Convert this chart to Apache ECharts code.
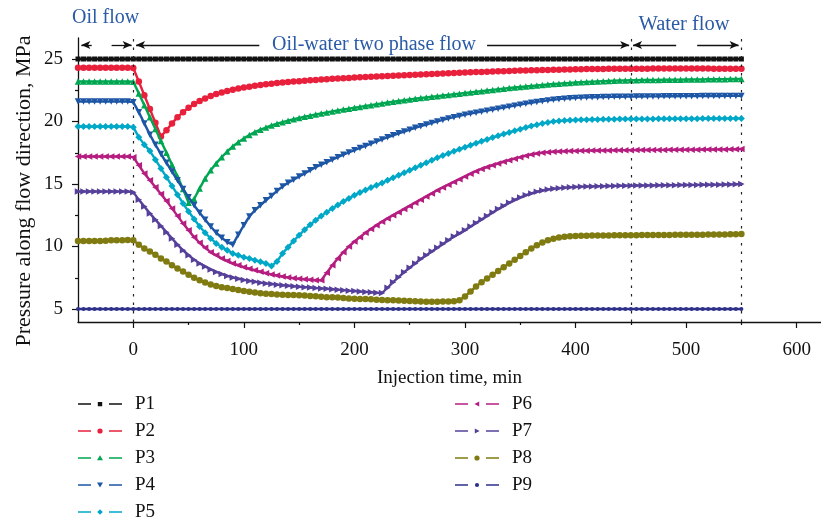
<!DOCTYPE html>
<html>
<head>
<meta charset="utf-8">
<script src="https://cdn.jsdelivr.net/npm/echarts@6/dist/echarts.min.js"></script>
<style>html,body{margin:0;padding:0;background:#fff;}#c{width:821px;height:525px;}</style>
</head>
<body>
<div id="c"></div>
<script>
// Injection time (min)
const times = [-50,-45,-40,-35,-30,-25,-20,-15,-10,-5,0,
5,10,15,20,25,30,35,40,45,50,55,60,65,70,75,80,85,90,95,100,
105,110,115,120,125,130,135,140,145,150,155,160,165,170,175,180,185,190,195,200,
205,210,215,220,225,230,235,240,245,250,255,260,265,270,275,280,285,290,295,300,
305,310,315,320,325,330,335,340,345,350,355,360,365,370,375,380,385,390,395,400,
405,410,415,420,425,430,435,440,445,450,455,460,465,470,475,480,485,490,495,500,
505,510,515,520,525,530,535,540,545,550];

const P1 = [25,25,25,25,25,25,25,25,25,25,25,
25,25,25,25,25,25,25,25,25,25,25,25,25,25,25,25,25,25,25,25,
25,25,25,25,25,25,25,25,25,25,25,25,25,25,25,25,25,25,25,25,
25,25,25,25,25,25,25,25,25,25,25,25,25,25,25,25,25,25,25,25,
25,25,25,25,25,25,25,25,25,25,25,25,25,25,25,25,25,25,25,25,
25,25,25,25,25,25,25,25,25,25,25,25,25,25,25,25,25,25,25,25,
25,25,25,25,25,25,25,25,25,25];
const P2 = [24.3,24.3,24.3,24.3,24.3,24.3,24.3,24.3,24.3,24.3,24.28,
23.2,22.1,21.0,19.9,18.8,19.3,19.85,20.35,20.75,21.1,21.4,21.65,21.85,22.05,22.2,22.33,22.45,22.55,22.64,22.72,
22.79,22.86,22.92,22.98,23.03,23.08,23.12,23.16,23.2,23.23,23.27,23.3,23.33,23.36,23.39,23.42,23.44,23.47,23.49,23.52,
23.54,23.56,23.58,23.6,23.62,23.64,23.66,23.68,23.7,23.72,23.74,23.76,23.78,23.8,23.82,23.84,23.86,23.88,23.9,23.92,
23.94,23.96,23.97,23.99,24.0,24.02,24.03,24.05,24.06,24.08,24.09,24.1,24.11,24.12,24.13,24.14,24.15,24.16,24.17,24.18,
24.19,24.2,24.2,24.21,24.21,24.22,24.22,24.22,24.23,24.23,24.23,24.23,24.23,24.24,24.24,24.24,24.24,24.24,24.24,24.24,
24.24,24.24,24.24,24.24,24.23,24.23,24.23,24.23,24.22,24.22];
const P3 = [23.2,23.2,23.2,23.2,23.2,23.2,23.2,23.2,23.2,23.2,23.18,
22.25,21.3,20.35,19.4,18.45,17.5,16.55,15.6,14.6,13.5,13.8,14.65,15.45,16.1,16.65,17.15,17.6,18.0,18.35,18.65,
18.92,19.15,19.35,19.52,19.68,19.82,19.95,20.07,20.18,20.28,20.38,20.47,20.56,20.65,20.73,20.81,20.89,20.96,21.03,21.1,
21.17,21.24,21.31,21.38,21.45,21.52,21.58,21.64,21.7,21.76,21.82,21.88,21.93,21.98,22.03,22.08,22.13,22.18,22.23,22.28,
22.33,22.38,22.43,22.48,22.53,22.58,22.63,22.68,22.72,22.76,22.8,22.84,22.88,22.92,22.96,23.0,23.03,23.06,23.09,23.12,
23.15,23.17,23.19,23.21,23.23,23.25,23.27,23.28,23.29,23.3,23.31,23.32,23.32,23.33,23.33,23.34,23.34,23.35,23.35,23.36,
23.36,23.37,23.37,23.38,23.38,23.39,23.39,23.4,23.4,23.4];
const P4 = [21.6,21.6,21.6,21.6,21.6,21.6,21.6,21.6,21.6,21.6,21.55,
20.75,19.85,18.95,18.15,17.4,16.7,16.0,15.3,14.6,13.95,13.3,12.7,12.15,11.6,11.1,10.7,10.35,10.15,10.95,11.7,
12.4,12.9,13.3,13.7,14.05,14.45,14.8,15.1,15.35,15.6,15.85,16.1,16.35,16.55,16.75,16.95,17.15,17.35,17.52,17.7,
17.88,18.05,18.22,18.4,18.57,18.74,18.9,19.06,19.2,19.35,19.5,19.63,19.76,19.89,20.01,20.13,20.25,20.35,20.45,20.55,
20.63,20.71,20.79,20.87,20.95,21.03,21.11,21.19,21.27,21.35,21.43,21.5,21.57,21.63,21.69,21.74,21.79,21.83,21.86,21.89,
21.91,21.93,21.94,21.95,21.96,21.97,21.98,21.98,21.99,21.99,22.0,22.0,22.01,22.01,22.01,22.02,22.02,22.02,22.03,22.03,
22.03,22.03,22.04,22.04,22.04,22.04,22.05,22.05,22.05,22.05];
const P5 = [19.6,19.6,19.6,19.6,19.6,19.6,19.6,19.6,19.6,19.6,19.55,
18.75,18.15,17.65,16.95,16.25,15.55,14.85,14.15,13.45,12.8,12.2,11.6,11.1,10.65,10.25,9.95,9.7,9.45,9.3,9.15,
9.05,8.9,8.78,8.65,8.45,8.8,9.45,9.95,10.45,10.9,11.35,11.75,12.1,12.45,12.75,13.05,13.32,13.6,13.85,14.1,
14.32,14.52,14.72,14.9,15.08,15.3,15.5,15.7,15.9,16.1,16.3,16.5,16.7,16.9,17.1,17.28,17.45,17.62,17.78,17.94,
18.1,18.26,18.42,18.57,18.72,18.86,19.0,19.13,19.26,19.39,19.52,19.64,19.75,19.85,19.93,20.0,20.05,20.08,20.1,20.12,
20.14,20.15,20.16,20.17,20.18,20.19,20.19,20.2,20.2,20.2,20.2,20.21,20.21,20.21,20.22,20.22,20.22,20.22,20.23,20.23,
20.23,20.23,20.24,20.24,20.24,20.24,20.25,20.25,20.25,20.25];
const P6 = [17.2,17.2,17.2,17.2,17.2,17.2,17.2,17.2,17.2,17.2,17.15,
16.5,15.85,15.3,14.75,14.2,13.65,13.05,12.45,11.85,11.3,10.75,10.3,9.9,9.55,9.3,9.05,8.85,8.65,8.5,8.35,
8.22,8.1,7.98,7.87,7.77,7.68,7.6,7.53,7.47,7.42,7.38,7.34,7.3,7.3,7.9,8.5,9.05,9.55,10.0,10.4,
10.75,11.1,11.4,11.7,11.98,12.25,12.5,12.75,13.0,13.25,13.5,13.75,14.0,14.25,14.5,14.72,14.94,15.16,15.38,15.6,
15.82,16.03,16.2,16.36,16.5,16.64,16.78,16.91,17.03,17.15,17.26,17.36,17.44,17.5,17.55,17.58,17.6,17.62,17.64,17.65,
17.66,17.67,17.68,17.68,17.69,17.69,17.7,17.7,17.71,17.71,17.72,17.72,17.72,17.73,17.73,17.73,17.74,17.74,17.74,17.75,
17.75,17.75,17.76,17.76,17.76,17.77,17.77,17.78,17.78,17.8];
const P7 = [14.4,14.4,14.4,14.4,14.4,14.4,14.4,14.4,14.4,14.4,14.35,
13.75,13.2,12.65,12.15,11.65,11.15,10.65,10.15,9.7,9.3,8.95,8.65,8.4,8.17,7.97,7.8,7.65,7.52,7.42,7.33,
7.25,7.18,7.11,7.05,7.0,6.95,6.9,6.86,6.82,6.78,6.75,6.72,6.68,6.65,6.62,6.58,6.55,6.51,6.47,6.44,
6.4,6.37,6.34,6.3,6.28,6.7,7.15,7.55,7.95,8.3,8.65,9.0,9.3,9.6,9.9,10.2,10.5,10.8,11.05,11.3,
11.6,11.88,12.16,12.44,12.72,13.0,13.25,13.5,13.73,13.93,14.1,14.25,14.38,14.48,14.56,14.62,14.67,14.71,14.74,14.77,
14.79,14.8,14.81,14.82,14.83,14.84,14.85,14.86,14.87,14.87,14.88,14.88,14.89,14.89,14.9,14.9,14.91,14.91,14.92,14.92,
14.93,14.93,14.94,14.94,14.95,14.95,14.96,14.97,14.98,15.0];
const P8 = [10.45,10.45,10.45,10.45,10.45,10.47,10.5,10.5,10.5,10.52,10.5,
10.15,9.85,9.6,9.35,9.05,8.8,8.5,8.25,8.0,7.75,7.5,7.3,7.12,6.97,6.85,6.75,6.68,6.6,6.52,6.45,
6.38,6.32,6.27,6.23,6.2,6.17,6.15,6.13,6.12,6.1,6.08,6.05,6.02,5.98,5.95,5.95,5.93,5.88,5.85,5.82,
5.8,5.8,5.78,5.75,5.72,5.7,5.7,5.68,5.66,5.65,5.62,5.6,5.58,5.58,5.58,5.6,5.6,5.62,5.7,6.0,
6.4,6.8,7.15,7.45,7.75,8.05,8.35,8.65,8.95,9.25,9.55,9.85,10.1,10.32,10.5,10.63,10.72,10.78,10.82,10.85,
10.86,10.87,10.88,10.88,10.89,10.89,10.9,10.9,10.9,10.91,10.91,10.92,10.92,10.92,10.93,10.93,10.93,10.94,10.94,10.94,
10.95,10.95,10.95,10.96,10.96,10.97,10.97,10.98,10.99,11.0];
const P9 = [5,5,5,5,5,5,5,5,5,5,5,
5,5,5,5,5,5,5,5,5,5,5,5,5,5,5,5,5,5,5,5,
5,5,5,5,5,5,5,5,5,5,5,5,5,5,5,5,5,5,5,5,
5,5,5,5,5,5,5,5,5,5,5,5,5,5,5,5,5,5,5,5,
5,5,5,5,5,5,5,5,5,5,5,5,5,5,5,5,5,5,5,5,
5,5,5,5,5,5,5,5,5,5,5,5,5,5,5,5,5,5,5,5,
5,5,5,5,5,5,5,5,5,5];

const seriesNames = ['P1','P2','P3','P4','P5','P6','P7','P8','P9'];
const seriesValues = [P1,P2,P3,P4,P5,P6,P7,P8,P9];
const xTickLabels = [0,100,200,300,400,500,600];
const xMinorTicks = [50,150,250,350,450,550];
const yTickLabels = [5,10,15,20,25];
const yMinorTicks = [7.5,12.5,17.5,22.5];
const phaseBounds = [0,450,550];

const colors = ['#111111','#e8203c','#00a651','#1d56a5','#00a8c8','#b51e80','#56409a','#7f7b10','#2d3188'];
const symbols = ['rect','circle','triangle','triangle','diamond','triangle','triangle','circle','circle'];
const rotates = [0,0,0,180,0,90,-90,0,0];
const sizes = [5,6.5,6.5,6.5,7,6.5,6.5,6.5,4];

// legend icons: dash - marker - dash (52 x 6 box)
const dashes = 'M0 2.5L13 2.5L13 4L0 4Z M31 2.5L44 2.5L44 4L31 4Z M0 0L0.01 0L0 0.01Z M52 6.5L51.99 6.5L52 6.49Z ';
const marks = [
  'M19.8 1.2L24.2 1.2L24.2 5.4L19.8 5.4Z',
  'M19.4 3.25A2.6 2.6 0 1 0 24.6 3.25A2.6 2.6 0 1 0 19.4 3.25Z',
  'M22 0.6L25 5.6L19 5.6Z',
  'M19 0.8L25 0.8L22 5.8Z',
  'M22 0.4L24.8 3.25L22 6.1L19.2 3.25Z',
  'M19.4 3.25L24.2 0.8L24.2 5.7Z',
  'M24.6 3.25L19.8 0.8L19.8 5.7Z',
  'M19.4 3.25A2.6 2.6 0 1 0 24.6 3.25A2.6 2.6 0 1 0 19.4 3.25Z',
  'M19.9 3.25A2.1 2.1 0 1 0 24.1 3.25A2.1 2.1 0 1 0 19.9 3.25Z'
];

const FONT = '"Liberation Serif", "DejaVu Serif", serif';
const BLUE = '#2a5ba6';
const ARROW_Y = 26.12;

const chart = echarts.init(document.getElementById('c'), null, {renderer: 'canvas'});

const series = seriesNames.map((name, k) => ({
  name: name,
  type: 'line',
  xAxisIndex: 0,
  yAxisIndex: 0,
  data: times.map((t, i) => [t, seriesValues[k][i]]),
  symbol: symbols[k],
  symbolSize: sizes[k],
  symbolRotate: rotates[k],
  showSymbol: true,
  lineStyle: {color: colors[k], width: 2.4},
  itemStyle: {color: colors[k], borderWidth: 0},
  emphasis: {disabled: true},
  z: 2 + k
}));

const arrowSeg = (a, b, headAtStart) => [
  {coord: [a, ARROW_Y], symbol: headAtStart ? 'arrow' : 'none', symbolSize: [6, 9]},
  {coord: [b, ARROW_Y], symbol: headAtStart ? 'none' : 'arrow', symbolSize: [6, 9]}
];

series.push({
  name: 'annot',
  type: 'line',
  data: [],
  xAxisIndex: 0,
  yAxisIndex: 0,
  markLine: {
    silent: true,
    animation: false,
    label: {show: false},
    symbol: ['none', 'none'],
    lineStyle: {color: '#111', width: 1.3, type: 'solid'},
    data: [
      ...phaseBounds.map(v => ({xAxis: v, lineStyle: {type: [2.5, 6], width: 1.2, color: '#222'}})),
      arrowSeg(-47, -37.6, true),
      arrowSeg(-19.6, -1.5, false),
      arrowSeg(2.5, 114, true),
      arrowSeg(320, 448.5, false),
      arrowSeg(452, 491, true),
      arrowSeg(510, 547.5, false)
    ]
  }
});

const legendCommon = {
  orient: 'vertical',
  top: 394,
  padding: 0,
  itemWidth: 52,
  itemHeight: 6.5,
  itemGap: 7,
  itemStyle: {borderWidth: 0},
  textStyle: {fontFamily: FONT, fontSize: 19, color: '#111', lineHeight: 20},
  selectedMode: false
};

const gridRect = {left: 78, right: 0, top: 38, bottom: 203};

const option = {
  animation: false,
  backgroundColor: '#fff',
  grid: [Object.assign({}, gridRect), Object.assign({}, gridRect)],
  xAxis: [{
    type: 'value', gridIndex: 0, min: -50, max: 622, position: 'bottom',
    axisLine: {onZero: false, lineStyle: {color: '#111', width: 1.3}},
    axisTick: {customValues: xTickLabels, length: 6, lineStyle: {color: '#111', width: 1.2}},
    axisLabel: {customValues: xTickLabels, margin: 19, fontFamily: FONT, fontSize: 19, color: '#111'},
    splitLine: {show: false},
    name: 'Injection time, min', nameLocation: 'middle', nameGap: 47,
    nameTextStyle: {fontFamily: FONT, fontSize: 19, color: '#111'}
  }, {
    type: 'value', gridIndex: 1, min: -50, max: 622, position: 'bottom',
    axisLine: {show: false, onZero: false},
    axisTick: {show: true, customValues: xMinorTicks, length: 3, lineStyle: {color: '#111', width: 1.2}},
    axisLabel: {show: false},
    splitLine: {show: false}
  }],
  yAxis: [{
    type: 'value', gridIndex: 0, min: 3.96, max: 26.68, position: 'left',
    axisLine: {show: true, onZero: false, lineStyle: {color: '#111', width: 1.3}},
    axisTick: {show: true, customValues: yTickLabels, length: 6, lineStyle: {color: '#111', width: 1.2}},
    axisLabel: {customValues: yTickLabels, margin: 15, fontFamily: FONT, fontSize: 19, color: '#111'},
    splitLine: {show: false}
  }, {
    type: 'value', gridIndex: 1, min: 3.96, max: 26.68, position: 'left',
    axisLine: {show: false, onZero: false},
    axisTick: {show: true, customValues: yMinorTicks, length: 3, lineStyle: {color: '#111', width: 1.2}},
    axisLabel: {show: false},
    splitLine: {show: false}
  }],
  legend: [
    Object.assign({left: 78, data: seriesNames.slice(0, 5).map((n, i) => ({name: n, icon: 'path://' + dashes + marks[i]}))}, legendCommon),
    Object.assign({left: 455, data: seriesNames.slice(5).map((n, i) => ({name: n, icon: 'path://' + dashes + marks[i + 5]}))}, legendCommon)
  ],
  graphic: [
    {type: 'text', x: 72, y: 18, style: {text: 'Oil flow', font: '20px ' + FONT, fill: BLUE, align: 'left', verticalAlign: 'middle'}},
    {type: 'text', x: 374, y: 45, style: {text: 'Oil-water two phase flow', font: '20px ' + FONT, fill: BLUE, align: 'center', verticalAlign: 'middle'}},
    {type: 'text', x: 684, y: 25, style: {text: 'Water flow', font: '20.5px ' + FONT, fill: BLUE, align: 'center', verticalAlign: 'middle'}},
    {type: 'text', x: 24, y: 191, rotation: Math.PI / 2, style: {text: 'Pressure along flow direction, MPa', font: '22px ' + FONT, fill: '#111', align: 'center', verticalAlign: 'middle'}}
  ],
  series: series
};

chart.setOption(option);
</script>
</body>
</html>
